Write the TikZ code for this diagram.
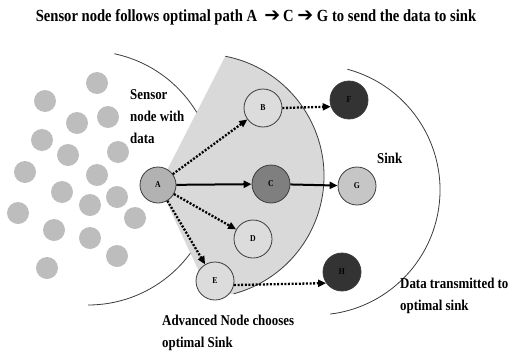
\documentclass[tikz,border=0pt]{standalone}
\usepackage{fontspec}
\setmainfont{Liberation Serif}
\newfontfamily\narrowserif{Liberation Serif}[FakeStretch=0.86]
\newfontfamily\arrowglyph{DejaVu Sans}
\usetikzlibrary{arrows.meta}

\definecolor{dotgray}{HTML}{BDBDBD}
\definecolor{zonegray}{HTML}{D9D9D9}
\definecolor{edgegray}{HTML}{3C3C3C}
\definecolor{lightnode}{HTML}{DCDCDC}
\definecolor{srcnode}{HTML}{B2B2B2}
\definecolor{relaynode}{HTML}{7F7F7F}
\definecolor{sinknode}{HTML}{C6C6C6}
\definecolor{darksink}{HTML}{333333}

\newcommand{\patharrow}{{\arrowglyph\fontsize{19}{19}\selectfont ➔}}

\begin{document}
\begin{tikzpicture}[x=1pt,y=-1pt,
  every node/.style={font=\narrowserif\bfseries},
  field/.style={circle, fill=dotgray, minimum size=22pt, inner sep=0pt},
  sensor/.style={circle, draw=edgegray, line width=0.8pt, minimum size=38pt,
    inner sep=0pt, font=\narrowserif\bfseries\fontsize{9}{9}\selectfont},
  label/.style={align=left, anchor=north west, inner sep=0pt,
    font=\narrowserif\bfseries\fontsize{15}{22}\selectfont},
  boundary/.style={draw=edgegray, line width=0.8pt},
  hop/.style={line width=2pt, -{Triangle[length=8pt,width=7pt]}},
  probe/.style={line width=2.3pt, dash pattern=on 2pt off 1.6pt,
    -{Triangle[length=8pt,width=7pt]}}
]
\useasboundingbox (0,0) rectangle (518,356);

% title
\node[font=\narrowserif\bfseries\fontsize{17}{17}\selectfont] (title) at (256,17)
  {Sensor node follows optimal path A \ \patharrow\,C \patharrow\ G to send the data to sink};

% field of ordinary sensors
\foreach \i/\x/\y in {1/97/83, 2/45/101, 3/77/123, 4/108/117, 5/42/140,
  6/118/152, 7/68/155, 8/25/172, 9/97/175, 10/62/192, 11/117/197,
  12/90/205, 13/18/213, 14/135/218, 15/54/230, 16/90/238, 17/117/256,
  18/47/268}
  \node[field] (s\i) at (\x,\y) {};

% range boundary of the source
\draw[boundary] ([shift={(88,178)}]-78:127) arc[start angle=-78, end angle=90, radius=127];

% transmission zone of node A
\path[fill=zonegray] (159,186) -- ([shift={(202,176)}]-79:122)
  arc[start angle=-79, end angle=75, radius=122] -- (211,297) -- cycle;
\draw[boundary] ([shift={(202,176)}]-79:122) arc[start angle=-79, end angle=75, radius=122];

% sink boundary
\draw[boundary] ([shift={(315,190)}]-75:125) arc[start angle=-75, end angle=83, radius=125];

% nodes
\node[sensor, fill=srcnode, minimum size=36pt] (A) at (158,185) {A};
\node[sensor, fill=lightnode] (B) at (263,108) {B};
\node[sensor, fill=relaynode] (C) at (271,184) {C};
\node[sensor, fill=lightnode] (D) at (253,239) {D};
\node[sensor, fill=lightnode] (E) at (215,281) {E};
\node[sensor, fill=darksink] (F) at (349,100) {F};
\node[sensor, fill=sinknode] (G) at (357,186) {G};
\node[sensor, fill=darksink] (H) at (342,272) {H};

% connections
\draw[probe] (A) -- (B);
\draw[probe] (A) -- (D);
\draw[probe] (A) -- (E);
\draw[hop] (A) -- (C);
\draw[hop] (C) -- (G);
\draw[probe] (B.east) -- (F.200);
\draw[probe] (E.-12) -- (H.215);

% labels
\node[label] (lsrc) at (130,89) {Sensor\\node with\\data};
\node[label] (lsink) at (377,153) {Sink};
\node[label] (ltx) at (400,278) {Data transmitted to\\optimal sink};
\node[label] (ladv) at (162,315) {Advanced Node chooses\\optimal Sink};
\end{tikzpicture}
\end{document}
